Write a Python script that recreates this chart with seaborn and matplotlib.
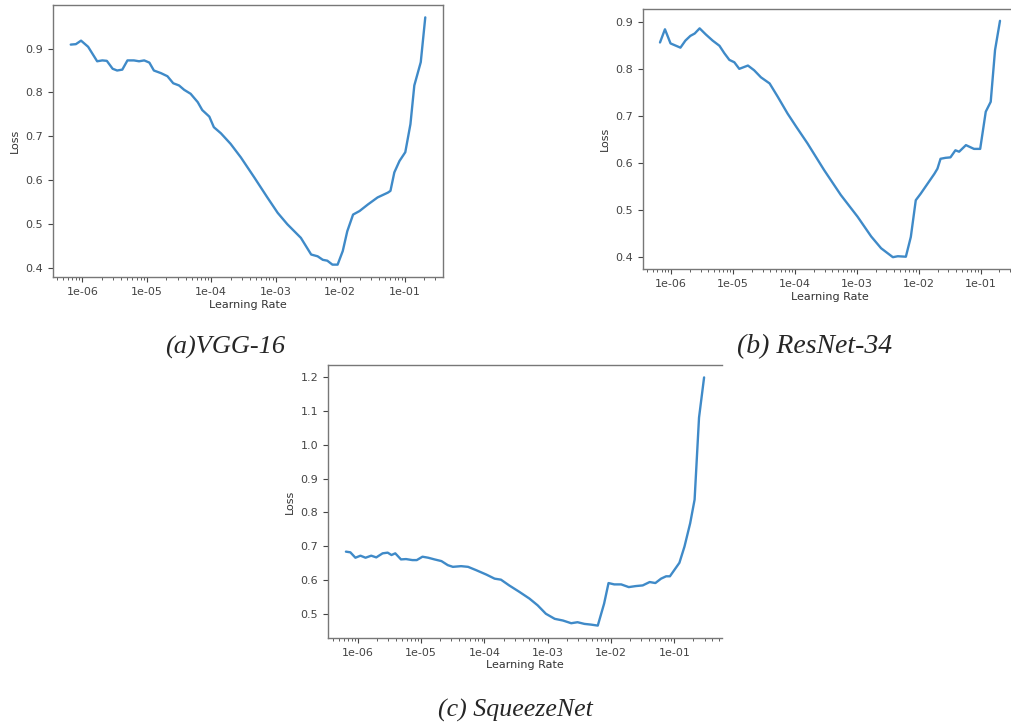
import numpy as np
import pandas as pd
import matplotlib
matplotlib.use("Agg")
import matplotlib.pyplot as plt
import matplotlib.ticker as mticker
import seaborn as sns

# values (x given as log10 of the learning rate)
vgg_log_lr = [-6.18, -6.10, -6.02, -5.91, -5.77, -5.69, -5.62, -5.53, -5.46, -5.38,
              -5.30, -5.20, -5.12, -5.04, -4.96, -4.89, -4.78, -4.68, -4.59, -4.50,
              -4.42, -4.32, -4.21, -4.14, -4.03, -3.96, -3.85, -3.70, -3.54, -3.33,
              -3.13, -2.97, -2.82, -2.61, -2.45, -2.35, -2.27, -2.20, -2.12, -2.04,
              -1.96, -1.89, -1.80, -1.70, -1.57, -1.42, -1.26, -1.22, -1.16, -1.08,
              -0.99, -0.91, -0.85, -0.75, -0.68]
vgg_loss = [0.909, 0.910, 0.918, 0.904, 0.871, 0.873, 0.872, 0.854, 0.850, 0.852,
            0.873, 0.873, 0.871, 0.873, 0.868, 0.850, 0.844, 0.837, 0.821, 0.816,
            0.806, 0.797, 0.778, 0.760, 0.745, 0.721, 0.707, 0.683, 0.652, 0.606,
            0.561, 0.526, 0.500, 0.469, 0.431, 0.427, 0.419, 0.417, 0.408, 0.408,
            0.439, 0.484, 0.522, 0.530, 0.545, 0.561, 0.572, 0.576, 0.618, 0.644,
            0.664, 0.728, 0.816, 0.869, 0.971]

resnet_log_lr = [-6.18, -6.10, -6.01, -5.85, -5.77, -5.69, -5.62, -5.54, -5.44, -5.33,
                 -5.22, -5.14, -5.06, -4.98, -4.90, -4.76, -4.66, -4.55, -4.41, -4.28,
                 -4.12, -3.98, -3.80, -3.53, -3.26, -2.99, -2.77, -2.61, -2.42, -2.34,
                 -2.21, -2.13, -2.05, -1.97, -1.86, -1.75, -1.70, -1.65, -1.57, -1.49,
                 -1.41, -1.35, -1.24, -1.11, -1.01, -0.92, -0.84, -0.77, -0.69]
resnet_loss = [0.856, 0.884, 0.854, 0.845, 0.860, 0.870, 0.875, 0.886, 0.873, 0.860,
               0.849, 0.833, 0.819, 0.814, 0.800, 0.807, 0.797, 0.782, 0.769, 0.741,
               0.705, 0.677, 0.642, 0.585, 0.532, 0.486, 0.444, 0.419, 0.400, 0.402,
               0.401, 0.443, 0.521, 0.535, 0.556, 0.577, 0.588, 0.609, 0.611, 0.612,
               0.627, 0.624, 0.638, 0.630, 0.630, 0.709, 0.730, 0.840, 0.902]

squeeze_log_lr = [-6.19, -6.12, -6.04, -5.96, -5.88, -5.79, -5.71, -5.61, -5.53, -5.47,
                  -5.41, -5.32, -5.24, -5.14, -5.07, -4.98, -4.89, -4.79, -4.68, -4.58,
                  -4.50, -4.37, -4.26, -4.13, -3.97, -3.84, -3.74, -3.61, -3.45, -3.29,
                  -3.16, -3.03, -2.89, -2.76, -2.63, -2.53, -2.42, -2.32, -2.21, -2.11,
                  -2.04, -1.95, -1.84, -1.72, -1.61, -1.50, -1.39, -1.30, -1.21, -1.13,
                  -1.07, -0.92, -0.84, -0.75, -0.68, -0.61, -0.53]
squeeze_loss = [0.684, 0.682, 0.666, 0.672, 0.666, 0.672, 0.667, 0.679, 0.681, 0.674,
                0.679, 0.661, 0.662, 0.659, 0.659, 0.669, 0.666, 0.661, 0.656, 0.644,
                0.639, 0.641, 0.639, 0.629, 0.616, 0.604, 0.601, 0.584, 0.565, 0.545,
                0.525, 0.500, 0.485, 0.480, 0.472, 0.475, 0.470, 0.468, 0.465, 0.530,
                0.591, 0.587, 0.587, 0.579, 0.582, 0.584, 0.594, 0.591, 0.604, 0.611,
                0.611, 0.651, 0.699, 0.768, 0.838, 1.081, 1.200]

captions = ["(a)VGG-16", "(b) ResNet-34", "(c) SqueezeNet"]

sns.set_style("ticks")
plt.rcParams['font.family'] = ['DejaVu Sans']

W, H = 1011, 728
fig = plt.figure(figsize=(W / 100, H / 100), dpi=100)

# axes boxes in pixels: left, top, right, bottom
boxes = [(53, 5, 443, 277), (643, 9, 1017, 269), (328, 365, 722, 638)]
series = [(vgg_log_lr, vgg_loss), (resnet_log_lr, resnet_loss), (squeeze_log_lr, squeeze_loss)]

for (l, t, r, b), (xs, ys) in zip(boxes, series):
    ax = fig.add_axes([l / W, 1 - b / H, (r - l) / W, (b - t) / H])
    df = pd.DataFrame({"lr": 10 ** np.array(xs), "loss": ys})
    sns.lineplot(data=df, x="lr", y="loss", ax=ax, color="#3f8ac8", lw=1.7, estimator=None)
    ax.set_xscale("log")
    ax.xaxis.set_major_formatter(mticker.FormatStrFormatter('%.0e'))
    ax.xaxis.set_minor_formatter(mticker.NullFormatter())
    ax.yaxis.set_major_locator(mticker.MultipleLocator(0.1))
    ax.set_xlabel("Learning Rate", fontsize=8, color="#333333", labelpad=2)
    ax.set_ylabel("Loss", fontsize=8, color="#333333")
    ax.tick_params(labelsize=8, colors="#444444", length=3.5, width=0.8)
    ax.tick_params(which="minor", length=2, width=0.6, colors="#444444")
    for s in ax.spines.values():
        s.set_visible(True)
        s.set_color("#777777")
        s.set_linewidth(1.0)
    if r > 700:
        ax.spines["right"].set_visible(False)

# captions under each panel
fig.text(225 / W, 1 - 347 / H, captions[0], family="Liberation Serif", style="italic",
         fontsize=19, ha="center", va="center")
fig.text(815 / W, 1 - 347 / H, captions[1], family="Liberation Serif", style="italic",
         fontsize=20, ha="center", va="center")
fig.text(515 / W, 1 - 710 / H, captions[2], family="Liberation Serif", style="italic",
         fontsize=18.6, ha="center", va="center")

fig.savefig("out.png", dpi=100)
